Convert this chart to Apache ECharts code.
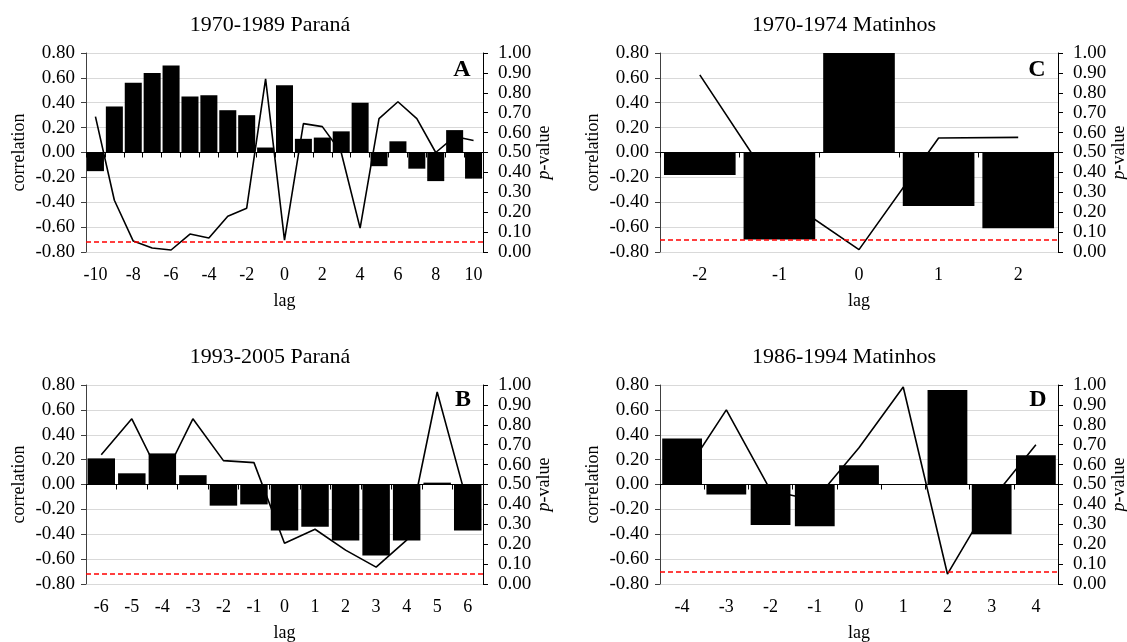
<!DOCTYPE html>
<html><head><meta charset="utf-8">
<script src="https://cdn.jsdelivr.net/npm/echarts@6/dist/echarts.min.js"></script>
<style>html,body{margin:0;padding:0;background:#fff}#c{width:1127px;height:642px}</style>
</head><body><div id="c"></div>
<script>
// ---- data ----
const lagsA = ['-10','-9','-8','-7','-6','-5','-4','-3','-2','-1','0','1','2','3','4','5','6','7','8','9','10'];
const corrA = [-0.15,0.37,0.56,0.64,0.70,0.45,0.46,0.34,0.30,0.04,0.54,0.11,0.12,0.17,0.40,-0.11,0.09,-0.13,-0.23,0.18,-0.21];
const pA    = [0.68,0.26,0.055,0.02,0.01,0.09,0.07,0.18,0.22,0.87,0.06,0.645,0.63,0.50,0.12,0.67,0.755,0.67,0.50,0.58,0.56];

const lagsC = ['-2','-1','0','1','2'];
const corrC = [-0.18,-0.70,0.80,-0.43,-0.61];
const pC    = [0.89,0.285,0.012,0.573,0.576];

const lagsB = ['-6','-5','-4','-3','-2','-1','0','1','2','3','4','5','6'];
const corrB = [0.21,0.09,0.25,0.075,-0.17,-0.16,-0.37,-0.34,-0.45,-0.57,-0.45,0.015,-0.37];
const pB    = [0.65,0.83,0.52,0.83,0.62,0.61,0.205,0.275,0.17,0.085,0.22,0.965,0.40];

const lagsD = ['-4','-3','-2','-1','0','1','2','3','4'];
const corrD = [0.37,-0.08,-0.325,-0.335,0.155,0,0.76,-0.40,0.235];
const pD    = [0.535,0.875,0.47,0.42,0.685,0.99,0.05,0.425,0.70];

const sigLevels = [0.05, 0.06, 0.05, 0.06];
const titles = ['1970-1989 Paraná','1970-1974 Matinhos','1993-2005 Paraná','1986-1994 Matinhos'];
const letters = ['A','C','B','D'];
const corrTicks = {min:-0.8, max:0.8, step:0.2};
const pTicks = {min:0, max:1, step:0.1};

// ---- layout ----
const FONT = '"Liberation Serif","Times New Roman",serif';
const panels = [
  {lags:lagsA, corr:corrA, p:pA, grid:{left:86, right:644, top:53, height:199}, labelInt:1, titleX:265, titleY:9, letterX:462, letterY:58},
  {lags:lagsC, corr:corrC, p:pC, grid:{left:660, right:69, top:53, height:199}, labelInt:0, titleX:839, titleY:9, letterX:1037, letterY:58},
  {lags:lagsB, corr:corrB, p:pB, grid:{left:86, right:644, top:385, height:199}, labelInt:0, titleX:265, titleY:341, letterX:463, letterY:388},
  {lags:lagsD, corr:corrD, p:pD, grid:{left:660, right:69, top:385, height:199}, labelInt:0, titleX:839, titleY:341, letterX:1038, letterY:388}
];

const grid=[], xAxis=[], yAxis=[], series=[], title=[], graphic=[];
panels.forEach((pn,i)=>{
  grid.push(Object.assign({outerBoundsMode:'none', containLabel:false}, pn.grid));
  // zero-line category axis
  xAxis.push({type:'category', gridIndex:i, data:pn.lags, position:'bottom',
    axisLine:{show:true, onZero:true, lineStyle:{color:'#000', width:1}},
    axisTick:{show:true, interval:0, length:5, lineStyle:{color:'#000'}},
    axisLabel:{show:false}, splitLine:{show:false}});
  // label axis at bottom
  xAxis.push({type:'category', gridIndex:i, data:pn.lags, position:'bottom',
    axisLine:{show:false, onZero:false}, axisTick:{show:false},
    axisLabel:{show:true, interval:pn.labelInt, fontFamily:FONT, fontSize:18, color:'#000', margin:14},
    name:'lag', nameLocation:'middle', nameGap:40,
    nameTextStyle:{fontFamily:FONT, fontSize:18, color:'#000'}, splitLine:{show:false}});
  yAxis.push({type:'value', gridIndex:i, position:'left', min:corrTicks.min, max:corrTicks.max, interval:corrTicks.step,
    axisLine:{show:true, lineStyle:{color:'#404040'}},
    axisTick:{show:true, length:5, lineStyle:{color:'#404040'}},
    axisLabel:{fontFamily:FONT, fontSize:19, color:'#000', margin:11, formatter:v=>v.toFixed(2)},
    splitLine:{show:true, lineStyle:{color:'#d9d9d9', width:1}},
    name:'correlation', nameLocation:'middle', nameRotate:90, nameGap:58,
    nameTextStyle:{fontFamily:FONT, fontSize:18, color:'#000'}});
  yAxis.push({type:'value', gridIndex:i, position:'right', min:pTicks.min, max:pTicks.max, interval:pTicks.step,
    axisLine:{show:true, lineStyle:{color:'#000'}},
    axisTick:{show:true, length:5, lineStyle:{color:'#000'}},
    axisLabel:{fontFamily:FONT, fontSize:19, color:'#000', margin:15, formatter:v=>v.toFixed(2)},
    splitLine:{show:false},
    name:'{i|p}-value', nameLocation:'middle', nameRotate:90, nameGap:50,
    nameTextStyle:{fontFamily:FONT, fontSize:18, color:'#000', rich:{i:{fontFamily:FONT, fontSize:18, fontStyle:'italic', color:'#000'}}}});
  series.push({type:'line', xAxisIndex:2*i, yAxisIndex:2*i+1, data:pn.p, symbol:'none',
    lineStyle:{color:'#000', width:1.6}, z:1, silent:true,
    markLine:{silent:true, symbol:'none', label:{show:false},
      lineStyle:{color:'#ff0000', type:[5,3], width:1.5}, data:[{yAxis:sigLevels[i]}]}});
  series.push({type:'bar', xAxisIndex:2*i, yAxisIndex:2*i, data:pn.corr, barCategoryGap:'10%',
    itemStyle:{color:'#000'}, z:2, silent:true});
  title.push({text:titles[i], left:pn.titleX, top:pn.titleY, textAlign:'center',
    textStyle:{fontFamily:FONT, fontSize:22, fontWeight:'normal', color:'#000'}});
  graphic.push({type:'text', x:pn.letterX, y:pn.letterY, style:{text:letters[i], font:'bold 24px '+FONT, fill:'#000', align:'center'}});
});

const chart = echarts.init(document.getElementById('c'), null, {renderer:'canvas'});
chart.setOption({animation:false, backgroundColor:'#fff', title, grid, xAxis, yAxis, series, graphic});
</script></body></html>
